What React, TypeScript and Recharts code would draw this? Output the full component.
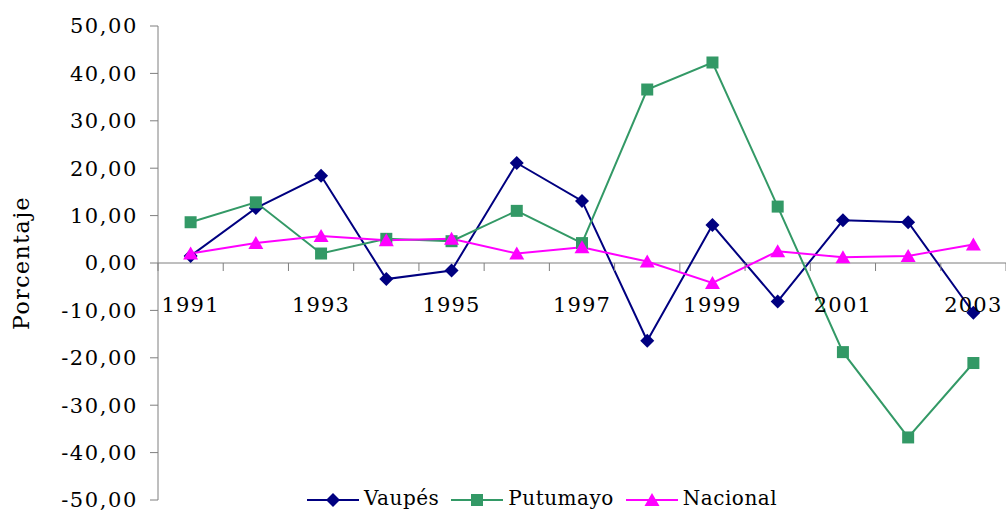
import React from "react";
import {
    Line,
    LineChart,
    ReferenceLine,
    XAxis,
    YAxis,
} from "recharts";

const years = [
    "1991", "1992", "1993", "1994", "1995", "1996", "1997",
    "1998", "1999", "2000", "2001", "2002", "2003",
];
const vaupes = [1.5, 11.6, 18.4, -3.4, -1.6, 21.1, 13.1, -16.4, 8.0, -8.1, 9.0, 8.6, -10.5];
const putumayo = [8.6, 12.8, 2.0, 5.1, 4.6, 11.0, 4.2, 36.6, 42.3, 11.9, -18.8, -36.8, -21.1];
const nacional = [2.0, 4.2, 5.7, 4.8, 5.1, 2.0, 3.3, 0.3, -4.2, 2.5, 1.2, 1.5, 3.9];
const yTicks = [50, 40, 30, 20, 10, 0, -10, -20, -30, -40, -50];

const series = [
    { key: "vaupes", name: "Vaupés", color: "#000080", shape: "diamond" },
    { key: "putumayo", name: "Putumayo", color: "#339966", shape: "square" },
    { key: "nacional", name: "Nacional", color: "#FF00FF", shape: "triangle" },
];

const data = years.map((year, i) => ({
    year,
    vaupes: vaupes[i],
    putumayo: putumayo[i],
    nacional: nacional[i],
}));

const WIDTH = 1006;
const HEIGHT = 511;
const MARGIN = { top: 26, right: 0, bottom: 10, left: 0 };
const Y_AXIS_W = 158;
const PLOT_W = WIDTH - MARGIN.left - MARGIN.right - Y_AXIS_W;
const PLOT_H = HEIGHT - MARGIN.top - MARGIN.bottom - 1;
const BAND = PLOT_W / years.length;
// the category axis crosses the value axis at 0
const ZERO_Y = MARGIN.top + PLOT_H * (50 / 100);
const AXIS_GREY = "#7f7f7f";
const FONT = "'DejaVu Serif', serif";

function Marker({ cx, cy, shape, color }: any) {
    if (cx == null || cy == null) return null;
    if (shape === "diamond") {
        return (
            <polygon
                points={`${cx},${cy - 7} ${cx + 7},${cy} ${cx},${cy + 7} ${cx - 7},${cy}`}
                fill={color}
            />
        );
    }
    if (shape === "square") {
        return <rect x={cx - 6} y={cy - 6} width={12} height={12} fill={color} />;
    }
    return (
        <polygon
            points={`${cx},${cy - 7} ${cx + 7.5},${cy + 6} ${cx - 7.5},${cy + 6}`}
            fill={color}
        />
    );
}

function renderYearTick(props: any) {
    const { x, index, payload } = props;
    const left = x - BAND / 2;
    return (
        <g key={`yt-${index}`}>
            <line x1={left} x2={left} y1={ZERO_Y} y2={ZERO_Y + 8} stroke={AXIS_GREY} />
            {index === years.length - 1 && (
                <line
                    x1={x + BAND / 2}
                    x2={x + BAND / 2}
                    y1={ZERO_Y}
                    y2={ZERO_Y + 8}
                    stroke={AXIS_GREY}
                />
            )}
            {index % 2 === 0 && (
                <text
                    x={x}
                    y={ZERO_Y + 49}
                    textAnchor="middle"
                    fill="#000"
                    fontSize={21}
                    letterSpacing={1.2}
                    fontFamily={FONT}
                >
                    {payload.value}
                </text>
            )}
        </g>
    );
}

function LegendRow() {
    return (
        <div
            style={{
                position: "absolute",
                left: 307,
                top: 487,
                display: "flex",
                alignItems: "center",
                fontFamily: FONT,
                fontSize: 20,
                lineHeight: "22px",
                whiteSpace: "nowrap",
            }}
        >
            {series.map((s) => (
                <div
                    key={s.key}
                    style={{ display: "flex", alignItems: "center", marginRight: 12 }}
                >
                    <svg width={52} height={22}>
                        <line x1={0} x2={52} y1={13} y2={13} stroke={s.color} strokeWidth={2} />
                        <Marker cx={26} cy={13} shape={s.shape} color={s.color} />
                    </svg>
                    <span style={{ marginLeft: 5, letterSpacing: 0.5 }}>{s.name}</span>
                </div>
            ))}
        </div>
    );
}

export default function App() {
    return (
        <div
            style={{
                position: "absolute",
                left: 0,
                top: 0,
                width: WIDTH,
                height: HEIGHT,
                background: "#fff",
                overflow: "hidden",
            }}
        >
            <LineChart width={WIDTH} height={HEIGHT} data={data} margin={MARGIN}>
                <XAxis
                    dataKey="year"
                    scale="band"
                    height={1}
                    interval={0}
                    axisLine={false}
                    tickLine={false}
                    tick={renderYearTick}
                />
                <YAxis
                    width={Y_AXIS_W}
                    domain={[-50, 50]}
                    ticks={yTicks}
                    interval={0}
                    axisLine={{ stroke: AXIS_GREY }}
                    tickLine={{ stroke: AXIS_GREY }}
                    tickSize={8}
                    tickMargin={12}
                    tickFormatter={(v: number) => v.toFixed(2).replace(".", ",")}
                    tick={{
                        fill: "#000",
                        fontSize: 21,
                        fontFamily: FONT,
                        letterSpacing: 1.6,
                    }}
                    label={{
                        content: ({ viewBox }: any) => {
                            const cy = viewBox.y + viewBox.height / 2;
                            return (
                                <text
                                    x={29}
                                    y={cy}
                                    transform={`rotate(-90, 29, ${cy})`}
                                    textAnchor="middle"
                                    fill="#000"
                                    fontSize={22}
                                    letterSpacing={1.5}
                                    fontFamily={FONT}
                                >
                                    Porcentaje
                                </text>
                            );
                        },
                    }}
                />
                <ReferenceLine y={0} stroke={AXIS_GREY} strokeWidth={1} />
                {series.map((s) => (
                    <Line
                        key={s.key}
                        type="linear"
                        dataKey={s.key}
                        name={s.name}
                        stroke={s.color}
                        strokeWidth={2}
                        isAnimationActive={false}
                        dot={(props: any) => (
                            <Marker
                                key={`${s.key}-${props.index}`}
                                cx={props.cx}
                                cy={props.cy}
                                shape={s.shape}
                                color={s.color}
                            />
                        )}
                        activeDot={false}
                    />
                ))}
            </LineChart>
            <LegendRow />
        </div>
    );
}
